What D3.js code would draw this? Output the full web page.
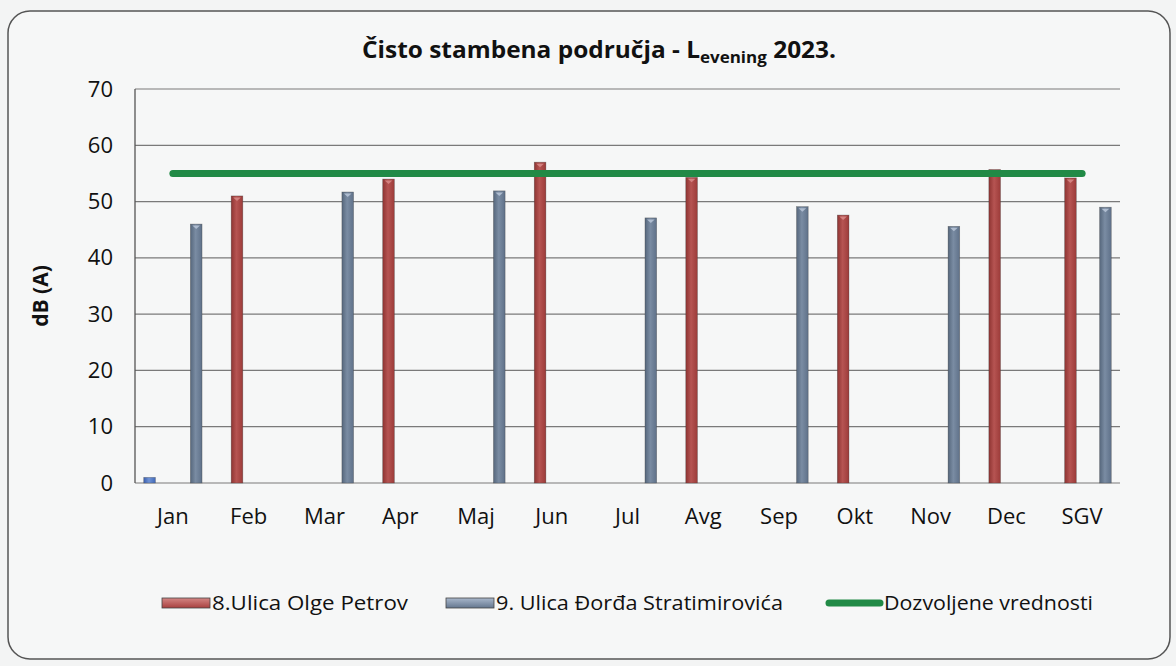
<!DOCTYPE html>
<html>
<head>
<meta charset="utf-8">
<script src="https://cdn.jsdelivr.net/npm/d3@7"></script>
<style>
  html, body { margin: 0; padding: 0; background: #f3f4f4; }
  svg { display: block; }
</style>
</head>
<body>
<svg id="chart" width="1176" height="666"></svg>
<script>
// ---- data ----
const categories = ["Jan","Feb","Mar","Apr","Maj","Jun","Jul","Avg","Sep","Okt","Nov","Dec","SGV"];
const seriesOther = [1, null, null, null, null, null, null, null, null, null, null, null, null];
const seriesOlgePetrov = [null, 51, null, 54, null, 57, null, 54.3, null, 47.6, null, 55.7, 54.2];
const seriesStratimirovica = [46, null, 51.7, null, 51.9, null, 47.1, null, 49.1, null, 45.6, null, 49];
const limitValues = [55,55,55,55,55,55,55,55,55,55,55,55,55];
const yTicks = [0,10,20,30,40,50,60,70];
const legendLabels = ["8.Ulica Olge Petrov", "9. Ulica Đorđa Stratimirovića", "Dozvoljene vrednosti"];
const slots = ["s1","s2","s3","s4","s5"];

const svg = d3.select("#chart");
const W = 1176, H = 666;
const plot = {left: 135, right: 1120, top: 89, bottom: 483};
const FONT = "'Open Sans', 'Noto Sans', sans-serif";

// defs: gradients
const defs = svg.append("defs");
function cyl(id, dark, mid, light) {
  const g = defs.append("linearGradient").attr("id", id).attr("x1","0").attr("x2","1").attr("y1","0").attr("y2","0");
  g.append("stop").attr("offset","0%").attr("stop-color", dark);
  g.append("stop").attr("offset","45%").attr("stop-color", light);
  g.append("stop").attr("offset","100%").attr("stop-color", mid);
}
cyl("gRed", "#8e3432", "#9c3b39", "#b65452");
cyl("gBlue", "#56677c", "#5f7189", "#7a8ca3");
cyl("gOther", "#3b5fae", "#4169b8", "#6f93d6");
const gl = defs.append("linearGradient").attr("id","gRedL").attr("x1","0").attr("x2","0").attr("y1","0").attr("y2","1");
gl.append("stop").attr("offset","0%").attr("stop-color","#d48684");
gl.append("stop").attr("offset","100%").attr("stop-color","#a8403f");
const gb = defs.append("linearGradient").attr("id","gBlueL").attr("x1","0").attr("x2","0").attr("y1","0").attr("y2","1");
gb.append("stop").attr("offset","0%").attr("stop-color","#a9b8cc");
gb.append("stop").attr("offset","100%").attr("stop-color","#64778f");

// frame
svg.append("rect").attr("x",0).attr("y",0).attr("width",W).attr("height",H).attr("fill","#f3f4f4");
svg.append("rect").attr("x",8).attr("y",11).attr("width",1162).attr("height",648)
  .attr("rx",22).attr("ry",22).attr("fill","#f6f7f7").attr("stroke","#555").attr("stroke-width",1.5);

// title
const title = svg.append("text").attr("x", 599).attr("y", 58).attr("text-anchor","middle")
  .attr("font-family", FONT).attr("font-weight","bold")
  .attr("font-size", 23).attr("fill","#111")
  .attr("textLength", 474).attr("lengthAdjust", "spacingAndGlyphs");
title.append("tspan").text("Čisto stambena područja - L");
title.append("tspan").attr("font-size", 16).attr("dy", 5).text("evening");
title.append("tspan").attr("dy", -5).text(" 2023.");

// scales
const x0 = d3.scaleBand().domain(categories).range([plot.left, plot.right]).paddingInner(0).paddingOuter(0);
const barW = x0.bandwidth() / (slots.length + 1.5);
const x1 = d3.scaleBand().domain(slots)
  .range([x0.bandwidth()/2 - barW*slots.length/2, x0.bandwidth()/2 + barW*slots.length/2]);
const y = d3.scaleLinear().domain([0,70]).range([plot.bottom, plot.top]);

// gridlines
const g = svg.append("g");
g.selectAll("line.grid").data(yTicks).join("line")
  .attr("x1", plot.left).attr("x2", plot.right)
  .attr("y1", d => y(d)).attr("y2", d => y(d))
  .attr("stroke", "#7a7a7a").attr("stroke-width", 1.2);
g.append("line").attr("x1", plot.left).attr("x2", plot.left).attr("y1", plot.top).attr("y2", plot.bottom)
  .attr("stroke","#555").attr("stroke-width",1.3);

// y axis labels
const yAxis = d3.axisLeft(y).tickValues(yTicks).tickSize(0).tickPadding(22);
const ya = svg.append("g").attr("transform", `translate(${plot.left},0)`).call(yAxis);
ya.select(".domain").remove();
ya.selectAll("text").attr("font-family", FONT).attr("font-size", 22).attr("fill","#111");

// x axis labels
const xAxis = d3.axisBottom(x0).tickSize(0).tickPadding(25);
const xa = svg.append("g").attr("transform", `translate(0,${plot.bottom})`).call(xAxis);
xa.select(".domain").remove();
xa.selectAll("text").attr("font-family", FONT).attr("font-size", 22).attr("fill","#111");

// y title
svg.append("text").attr("transform","translate(48,296) rotate(-90)").attr("text-anchor","middle")
  .attr("font-family", FONT).attr("font-weight","bold").attr("font-size",21)
  .attr("fill","#111").text("dB (A)");

// bars
const series = [
  {vals: seriesOther, slot: "s1", fill: "url(#gOther)", cap: "#8fb0e8"},
  {vals: seriesOlgePetrov, slot: "s2", fill: "url(#gRed)", cap: "#d98b8a"},
  {vals: seriesStratimirovica, slot: "s5", fill: "url(#gBlue)", cap: "#b8c6d8"}
];
series.forEach(s => {
  const data = categories.map((c,i) => ({c, v: s.vals[i]})).filter(d => d.v != null);
  const bg = svg.append("g");
  bg.selectAll("rect.bar").data(data).join("rect")
    .attr("x", d => x0(d.c) + x1(s.slot))
    .attr("width", barW)
    .attr("y", d => y(d.v))
    .attr("height", d => y(0) - y(d.v))
    .attr("fill", s.fill)
    .attr("stroke", "rgba(60,60,60,0.5)").attr("stroke-width", 0.6);
  bg.selectAll("path.cap").data(data.filter(d => d.v > 2)).join("path")
    .attr("d", d => {
      const xl = x0(d.c) + x1(s.slot), yt = y(d.v);
      return `M${xl+2},${yt+1.5} L${xl+barW-2},${yt+1.5} L${xl+barW/2},${yt+5} Z`;
    })
    .attr("fill", s.cap).attr("opacity", 0.85);
});

// limit line
const line = d3.line().x((d,i) => x0(categories[i]) + x0.bandwidth()/2).y(d => y(d));
svg.append("path").datum(limitValues).attr("d", line)
  .attr("fill","none").attr("stroke","#218a46").attr("stroke-width",7).attr("stroke-linecap","round");

// legend
const lg = svg.append("g").attr("font-family", FONT).attr("font-size",20).attr("fill","#111");
const legendItems = [
  {label: legendLabels[0], x: 162, type: "rect", fill: "url(#gRedL)", len: 196},
  {label: legendLabels[1], x: 446, type: "rect", fill: "url(#gBlueL)", len: 287},
  {label: legendLabels[2], x: 826, type: "line", len: 209}
];
const ly = 603;
legendItems.forEach(it => {
  if (it.type === "rect") {
    lg.append("rect").attr("x", it.x).attr("y", ly-5).attr("width", 48).attr("height", 10)
      .attr("fill", it.fill).attr("stroke","#444").attr("stroke-width",0.8);
    lg.append("text").attr("x", it.x + 50).attr("y", ly + 7)
      .attr("textLength", it.len).attr("lengthAdjust","spacingAndGlyphs").text(it.label);
  } else {
    lg.append("line").attr("x1", it.x + 3).attr("x2", it.x + 54).attr("y1", ly).attr("y2", ly)
      .attr("stroke","#218a46").attr("stroke-width",7).attr("stroke-linecap","round");
    lg.append("text").attr("x", it.x + 58).attr("y", ly + 7)
      .attr("textLength", it.len).attr("lengthAdjust","spacingAndGlyphs").text(it.label);
  }
});
</script>
</body>
</html>
